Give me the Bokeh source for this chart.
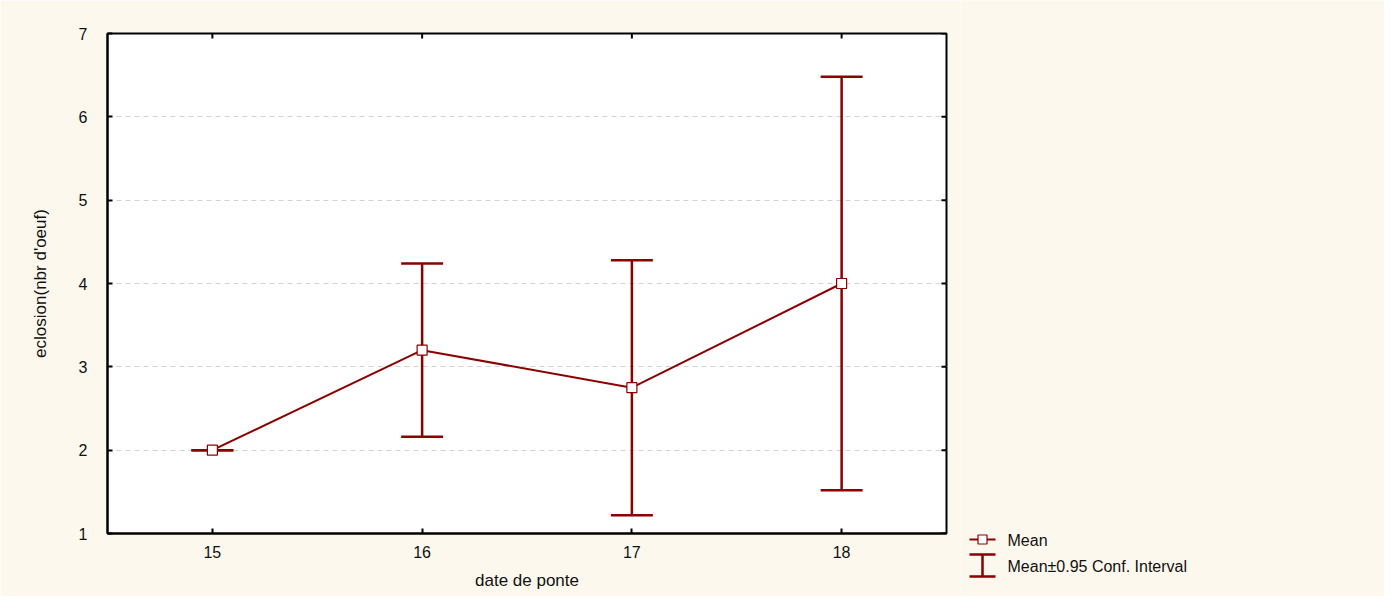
from bokeh.plotting import figure
from bokeh.models import ColumnDataSource, Range1d, FixedTicker
from bokeh.layouts import row, column
from bokeh.core.properties import value
from bokeh.embed import file_html
from bokeh.resources import INLINE

# ---- data ----
dates = [15, 16, 17, 18]
means = [2.0, 3.2, 2.75, 4.0]
lower = [2.0, 2.16, 1.22, 1.52]
upper = [2.0, 4.24, 4.28, 6.48]
x_ticks = [15, 16, 17, 18]
y_ticks = [1, 2, 3, 4, 5, 6, 7]
legend_labels = ["Mean", "Mean\u00b10.95 Conf. Interval"]

RED = "#8B0000"
BG = "#fdf8ed"
TXT = "#111111"
FONT = "Liberation Sans"
H = 596
W_MAIN = 960
W_LEG = 424

X0, X1, Y0, Y1 = 14.5, 18.5, 1, 7

cap = 0.1
src = ColumnDataSource(dict(
    x=dates, m=means, lo=lower, hi=upper,
    xl=[d - cap for d in dates], xr=[d + cap for d in dates],
))

p = figure(width=W_MAIN, height=H, output_backend="svg", toolbar_location=None,
           x_range=Range1d(X0, X1), y_range=Range1d(Y0, Y1),
           min_border_left=107, min_border_top=33, min_border_right=14, min_border_bottom=63,
           background_fill_color="white", border_fill_color=BG)

p.outline_line_color = "black"
p.outline_line_width = 2

# confidence intervals
p.segment(x0="x", y0="lo", x1="x", y1="hi", source=src, line_color=RED, line_width=2.5)
p.segment(x0="xl", y0="hi", x1="xr", y1="hi", source=src, line_color=RED, line_width=2.5)
p.segment(x0="xl", y0="lo", x1="xr", y1="lo", source=src, line_color=RED, line_width=2.5)

# mean line + markers
p.line(x="x", y="m", source=src, line_color=RED, line_width=2)
p.scatter(x="x", y="m", source=src, marker="square", size=10,
          fill_color="white", line_color=RED, line_width=1.2)

# axes styling
for ax in (p.xaxis[0], p.yaxis[0]):
    ax.axis_line_color = "black"
    ax.axis_line_width = 2
    ax.major_tick_in = 5
    ax.major_tick_out = 0
    ax.major_tick_line_width = 2
    ax.minor_tick_line_color = None
    ax.major_label_text_font = FONT
    ax.major_label_text_font_size = "16px"
    ax.major_label_text_color = TXT
    ax.axis_label_text_font = FONT
    ax.axis_label_text_font_size = "17px"
    ax.axis_label_text_font_style = "normal"
    ax.axis_label_text_color = TXT

p.xaxis[0].ticker = FixedTicker(ticks=x_ticks)
p.yaxis[0].ticker = FixedTicker(ticks=y_ticks)
p.xaxis[0].axis_label = "date de ponte"
p.yaxis[0].axis_label = "eclosion(nbr d'oeuf)"
p.xaxis[0].major_label_standoff = 12
p.xaxis[0].axis_label_standoff = 10
p.yaxis[0].major_label_standoff = 20
p.yaxis[0].axis_label_standoff = 26

# inward tick marks mirrored on the top and right frame edges
tick_dy = 0.06   # ~5 px in y data units
tick_dx = 0.024  # ~5 px in x data units
p.segment(x0=x_ticks, y0=[Y1] * len(x_ticks), x1=x_ticks, y1=[Y1 - tick_dy] * len(x_ticks),
          line_color="black", line_width=2)
p.segment(x0=[X1] * len(y_ticks), y0=y_ticks, x1=[X1 - tick_dx] * len(y_ticks), y1=y_ticks,
          line_color="black", line_width=2)

p.xgrid.grid_line_color = None
p.ygrid.grid_line_color = "#d2d2d2"
p.ygrid.grid_line_dash = "5 4"
p.ygrid.grid_line_width = 1

# ---- legend panel (pixel coordinates, y downwards) ----
lg = figure(width=W_LEG, height=H, output_backend="svg", toolbar_location=None,
            x_range=Range1d(0, W_LEG), y_range=Range1d(H, 0),
            x_axis_type=None, y_axis_type=None,
            min_border_left=0, min_border_right=0, min_border_top=0, min_border_bottom=0,
            background_fill_color=BG, border_fill_color=BG)
lg.outline_line_color = None
lg.grid.grid_line_color = None

# "Mean" entry: line with square marker
lg.segment(x0=[9], y0=[539], x1=[35], y1=[539], line_color=RED, line_width=2)
lg.scatter(x=[22], y=[539], marker="square", size=9, fill_color="white",
           line_color=RED, line_width=1.2)
# CI entry: I-beam
lg.segment(x0=[22, 9, 9], y0=[554, 554, 576], x1=[22, 35, 35], y1=[576, 554, 576],
           line_color=RED, line_width=2.5)
lg.text(x=[47, 47], y=[540, 566], text=legend_labels, text_font=value(FONT),
        text_font_size="16px", text_color=TXT, text_baseline="middle", text_align="left")

layout = row(p, column(lg, spacing=0), spacing=0)
open("out.html", "w").write(file_html(layout, INLINE))
